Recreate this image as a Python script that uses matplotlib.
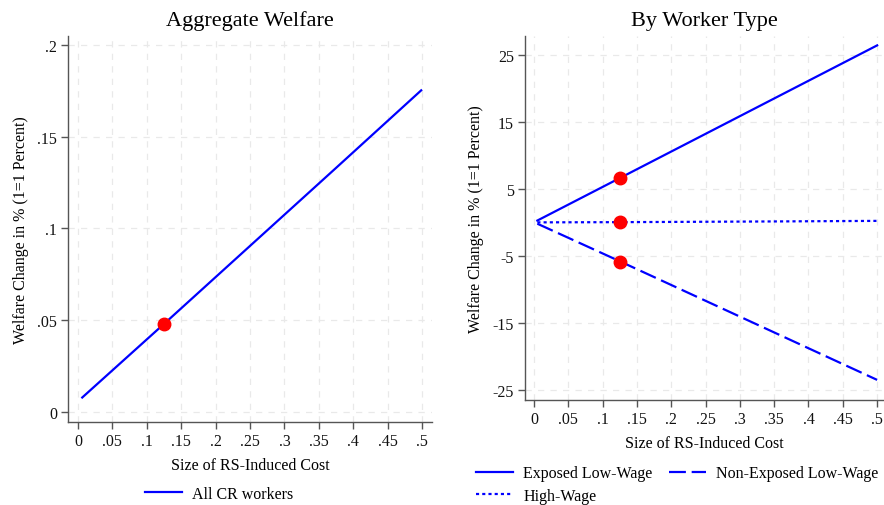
import matplotlib
matplotlib.use("Agg")
import matplotlib.pyplot as plt
from matplotlib.lines import Line2D

plt.rcParams['font.family'] = ['Liberation Serif', 'DejaVu Serif']

# ---- data ----
cost = [0.005, 0.125, 0.25, 0.375, 0.5]
aggregate = [0.0075, 0.048, 0.0905, 0.133, 0.1757]
exposed_low = [0.27, 6.6, 13.2, 19.8, 26.4]
nonexposed_low = [-0.2, -5.8, -11.7, -17.6, -23.5]
high_wage = [0.0, 0.03, 0.09, 0.15, 0.22]
star_x = 0.125
star_agg = 0.048
star_types = [6.6, 0.03, -5.9]

xticks = [0, .05, .1, .15, .2, .25, .3, .35, .4, .45, .5]
xtick_labels = ['0', '.05', '.1', '.15', '.2', '.25', '.3', '.35', '.4', '.45', '.5']
yticks_left = [0, .05, .1, .15, .2]
ytick_labels_left = ['0', '.05', '.1', '.15', '.2']
yticks_right = [-25, -15, -5, 5, 15, 25]
ytick_labels_right = ['-25', '-15', '-5', '5', '15', '25']

BLUE = '#0000ff'
RED = '#ff0000'
W, H = 884, 506
DASH = (0, (7.6, 2.6))
DOT = (0, (1.4, 1.4))

fig = plt.figure(figsize=(W / 100, H / 100), dpi=100)

def px_axes(l, t, r, b):
    return fig.add_axes([l / W, 1 - b / H, (r - l) / W, (b - t) / H])

ax1 = px_axes(68, 37, 432, 423)
ax2 = px_axes(525, 37, 884, 401)

def style(ax, yt, ytl):
    ax.set_xticks(xticks)
    ax.set_xticklabels(xtick_labels)
    ax.set_yticks(yt)
    ax.set_yticklabels(ytl)
    for s in ['top', 'right']:
        ax.spines[s].set_visible(False)
    for s in ['left', 'bottom']:
        ax.spines[s].set_color('#555555')
        ax.spines[s].set_linewidth(1.0)
    ax.tick_params(axis='both', direction='out', length=5, width=1.0,
                   color='#555555', labelsize=11.5, labelcolor='#111111', pad=3)
    ax.grid(True, color='#e9e9e9', linestyle=(0, (5, 5)), linewidth=0.9)
    ax.set_axisbelow(True)
    ax.set_xlabel('Size of RS-Induced Cost', fontsize=11.5, labelpad=6)
    ax.set_ylabel('Welfare Change in % (1=1 Percent)', fontsize=11.5, labelpad=6)

# left panel
ax1.plot(cost, aggregate, color=BLUE, lw=1.6, solid_capstyle='butt')
ax1.plot([star_x], [star_agg], 'o', color=RED, ms=9, zorder=5)
ax1.set_xlim(-0.0145, 0.5145)
ax1.set_ylim(-0.00545, 0.2049)
style(ax1, yticks_left, ytick_labels_left)
ax1.set_title('Aggregate Welfare', fontsize=16, pad=8)

# right panel
ax2.plot(cost, exposed_low, color=BLUE, lw=1.6, ls='-')
ax2.plot(cost, nonexposed_low, color=BLUE, lw=1.6, ls=DASH)
ax2.plot(cost, high_wage, color=BLUE, lw=1.6, ls=DOT)
ax2.plot([star_x] * 3, star_types, 'o', color=RED, ms=9, zorder=5, ls='none')
ax2.set_xlim(-0.013, 0.510)
ax2.set_ylim(-26.5, 27.8)
style(ax2, yticks_right, ytick_labels_right)
ax2.set_title('By Worker Type', fontsize=16, pad=8)

# legends
h_all = Line2D([], [], color=BLUE, lw=1.6)
fig.legend([h_all], ['All CR workers'], loc='center left',
           bbox_to_anchor=(145 / W, 1 - 495 / H), frameon=False,
           fontsize=11.5, handlelength=2.3, handletextpad=0.65,
           borderpad=0, borderaxespad=0)

h_exp = Line2D([], [], color=BLUE, lw=1.6, ls='-')
h_non = Line2D([], [], color=BLUE, lw=1.6, ls=DASH)
h_high = Line2D([], [], color=BLUE, lw=1.6, ls=DOT)
fig.legend([h_exp, h_high, h_non],
           ['Exposed Low-Wage', 'High-Wage', 'Non-Exposed Low-Wage'],
           ncol=2, loc='center left',
           bbox_to_anchor=(476 / W, 1 - 485.5 / H), frameon=False,
           fontsize=11.5, handlelength=2.3, handletextpad=0.65,
           columnspacing=1.05, labelspacing=0.4,
           borderpad=0, borderaxespad=0)

fig.savefig('out.png', dpi=100)
